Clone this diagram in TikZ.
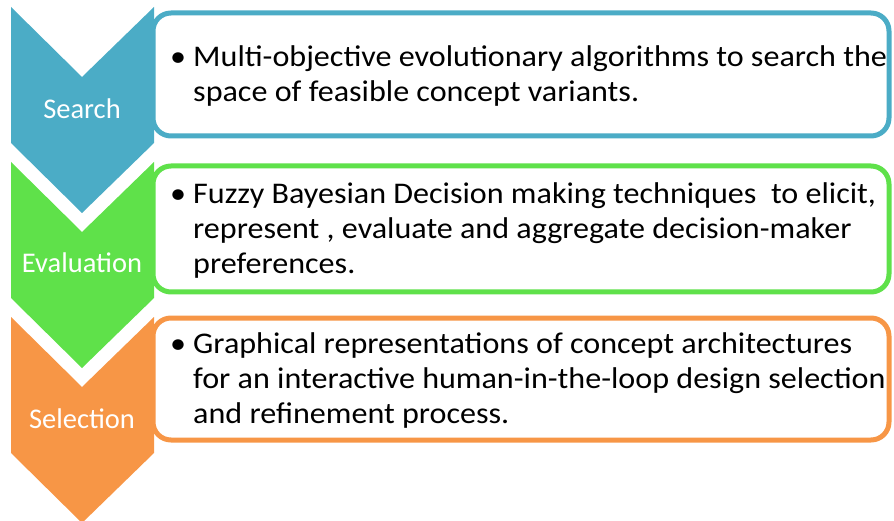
\documentclass[tikz,border=0pt]{standalone}
\usepackage{fontspec}
\setmainfont{Carlito}
\newfontfamily\bodyfont[FakeStretch=1.07]{Carlito}
\definecolor{stepblue}{HTML}{4BACC6}
\definecolor{stepgreen}{HTML}{5FE14A}
\definecolor{steporange}{HTML}{F79646}
\tikzset{
  chevron/.style={fill=#1, draw=none},
  infobox/.style={draw=#1, line width=5pt, rounded corners=18pt, fill=white},
  steplabel/.style={text=white, inner sep=0pt, anchor=base, font=\fontsize{28.5}{35}\selectfont},
  line/.style={text=black, inner sep=0pt, anchor=base west, font=\bodyfont\fontsize{30}{35}\selectfont},
}
\begin{document}
\begin{tikzpicture}[x=1pt, y=-1pt]
\useasboundingbox (0,0) rectangle (894,521);

% description boxes (left edges tucked under the chevrons)
\draw[infobox=stepblue]   (153,13)  rectangle (889,136);
\draw[infobox=stepgreen]  (153,166) rectangle (889,292);
\draw[infobox=steporange] (153,318) rectangle (889,440);

% chevrons: top edge t, notch 70 deep, sides 136 long, point at t+206
\foreach \t/\c in {7/stepblue, 162/stepgreen, 317/steporange}{
  \fill[chevron=\c] (11,\t) -- (82,\t+70) -- (154,\t) -- (154,\t+136)
    -- (82,\t+206) -- (11,\t+136) -- cycle;
}

% chevron labels
\node[steplabel] (lsearch) at (82,119) {Search};
\node[steplabel] (leval)   at (82,273) {Evaluation};
\node[steplabel] (lsel)    at (82,428) {Selection};

% search box text
\node[line] (b1) at (170,67) {\textbullet};
\node[line] (s1) at (193,67) {Multi-objective evolutionary algorithms to search the};
\node[line] (s2) at (193,102) {space of feasible concept variants.};

% evaluation box text
\node[line] (b2) at (170,204) {\textbullet};
\node[line] (e1) at (193,204) {Fuzzy Bayesian Decision making techniques\ \ to elicit,};
\node[line] (e2) at (193,239) {represent , evaluate and aggregate decision-maker};
\node[line] (e3) at (193,274) {preferences.};

% selection box text
\node[line] (b3) at (170,353) {\textbullet};
\node[line] (g1) at (193,353) {Graphical representations of concept architectures};
\node[line] (g2) at (193,388) {for an interactive human-in-the-loop design selection};
\node[line] (g3) at (193,423) {and refinement process.};
\end{tikzpicture}
\end{document}
